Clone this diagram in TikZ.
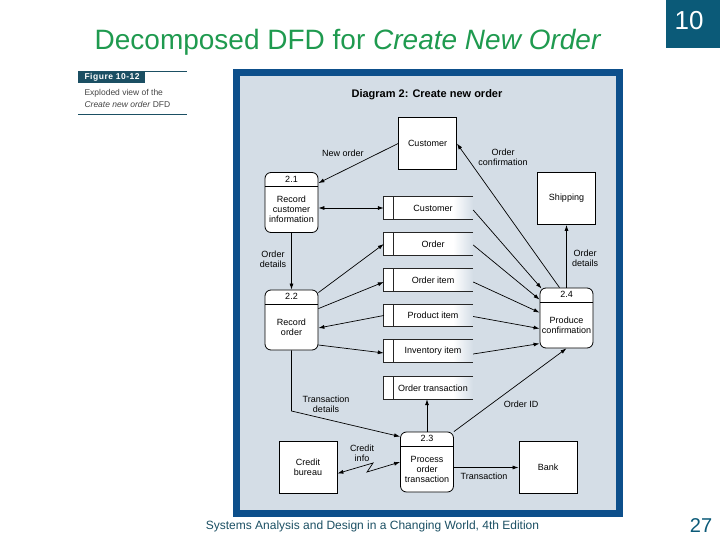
\documentclass[tikz,border=0pt]{standalone}
\usepackage{fontspec}
\setmainfont{Liberation Sans}
\usetikzlibrary{arrows.meta,positioning,calc}
\definecolor{titlegreen}{HTML}{1F9A4F}
\definecolor{slideteal}{HTML}{0B5A78}
\definecolor{footteal}{HTML}{1B4F63}
\definecolor{panelblue}{HTML}{0D4F8B}
\definecolor{panelbg}{HTML}{D4DDE6}
\definecolor{capgray}{HTML}{444444}

\begin{document}
\begin{tikzpicture}[x=1pt, y=-1pt, >={Latex[length=6pt,width=4pt]},
  lbl/.style={font=\fontsize{9}{10}\selectfont, align=center, inner sep=0pt},
  entity/.style={draw, fill=white, line width=0.8pt, minimum width=58pt, minimum height=52pt, font=\fontsize{9}{10}\selectfont, align=center},
  proc/.style={draw, fill=white, line width=0.8pt, rounded corners=6pt, minimum width=53pt, minimum height=60pt,
    path picture={\draw[line width=0.8pt] ([yshift=-14pt]path picture bounding box.north west) -- ([yshift=-14pt]path picture bounding box.north east);}},
  store/.style={minimum width=89pt, minimum height=22pt, inner sep=0pt, font=\fontsize{9}{10}\selectfont,
    path picture={\fill[white] (path picture bounding box.south west) rectangle ([xshift=-20pt]path picture bounding box.north east);
      \shade[left color=white, right color=panelbg] ([xshift=-20pt]path picture bounding box.south east) rectangle (path picture bounding box.north east);}},
  flow/.style={->, line width=0.7pt}]
\useasboundingbox (0,0) rectangle (720,540);
% slide frame
\node[font=\fontsize{28}{30}\selectfont, text=titlegreen] (title) at (348,42) {Decomposed DFD for \textit{Create New Order}};
\fill[slideteal] (666,0) rectangle (720,48);
\node[text=white, font=\fontsize{26}{28}\selectfont] (slideno) at (689,21) {10};
\node[text=slideteal, font=\fontsize{20}{22}\selectfont] (pageno) at (701,526) {27};
\node[text=footteal, font=\fontsize{12}{14}\selectfont] (foot) at (372.5,526) {Systems Analysis and Design in a Changing World, 4th Edition};
% figure caption
\draw[footteal, line width=0.8pt] (78,71) -- (187,71);
\fill[footteal] (78,71) rectangle (145,83);
\node[anchor=west, text=white, font=\fontsize{8.5}{10}\selectfont\bfseries\addfontfeatures{LetterSpace=6}] (figlbl) at (81,77.5) {Figure 10-12};
\node[anchor=west, align=left, text=capgray, font=\fontsize{8.5}{12}\selectfont] (figcap) at (81,98) {Exploded view of the\\\textit{Create new order} DFD};
\draw[footteal, line width=0.8pt] (78,114) -- (187,114);
% panel
\fill[panelblue] (233,69) rectangle (623,517);
\fill[panelbg] (240,76) rectangle (616,510);
\node[font=\fontsize{11}{13}\selectfont\bfseries] (ptitle) at (427,95) {Diagram 2: Create new order};
% external agents
\node[entity] (cust) at (427.5,143.5) {Customer};
\node[entity] (ship) at (566.5,198.5) {Shipping};
\node[entity] (cb) at (308,467.5) {Credit\\bureau};
\node[entity] (bank) at (548,467.5) {Bank};
% processes
\foreach \nm/\xx/\yy/\num/\txt in {p21/291.5/202.5/2.1/Record\\customer\\information, p22/291.5/320/2.2/Record\\order,
    p23/427/462/2.3/Process\\order\\transaction, p24/566.5/318/2.4/Produce\\confirmation} {
  \node[proc] (\nm) at (\xx,\yy) {};
  \node[lbl] (\nm num) at ([yshift=-7pt]\nm.north) {\num};
  \node[lbl] (\nm txt) at ([yshift=-7pt]\nm.center) {\txt};
}
% data stores
\foreach \nm/\yy/\txt in {sCust/208/Customer, sOrd/244/Order, sItem/280/Order item, sProd/315.5/Product item,
    sInv/351/Inventory item, sTrans/388/Order transaction} {
  \node[store] (\nm) at (428.5,\yy) {\hspace*{9pt}\txt};
  \draw[line width=0.8pt, black!85] (\nm.north east) -- (\nm.north west) -- (\nm.south west) -- (\nm.south east);
  \draw[line width=0.8pt, black!85] ([xshift=10pt]\nm.north west) -- ([xshift=10pt]\nm.south west);
}
% flows
\draw[flow] (cust.west) -- ([yshift=-11pt]p21.north east);
\draw[flow] ([xshift=-7pt]p24.north) -- (cust.east);
\draw[flow] (p24.north) -- (ship.south);
\draw[<->, line width=0.7pt] (p21.east |- sCust.west) -- (sCust.west);
\draw[flow] (p21.south) -- (p22.north);
\draw[flow] ([yshift=-3pt]p22.north east) -- (sOrd.west);
\draw[flow] ([yshift=-19pt]p22.north east) -- ([yshift=-2pt]sItem.west);
\draw[flow] (sProd.west) -- ([yshift=-8pt]p22.east);
\draw[flow] ([yshift=-25pt]p22.east) -- ([yshift=-2pt]sInv.west);
\draw[flow] ([yshift=-2pt]sCust.east) -- ([xshift=2pt,yshift=-1pt]p24.north west);
\draw[flow] ([yshift=-1pt]sOrd.east) -- ([yshift=-12pt]p24.north west);
\draw[flow] ([yshift=-2pt]sItem.east) -- ([yshift=-25pt]p24.north west);
\draw[flow] ([yshift=-1pt]sProd.east) -- ([yshift=-41pt]p24.north west);
\draw[flow] ([yshift=-3pt]sInv.east) -- ([yshift=-56pt]p24.north west);
\coordinate (tBend) at (291.5,411);
\draw[flow] (p22.south) -- (tBend) -- ([yshift=-5pt]p23.north west);
\draw[flow] (p23.north) -- (p23.north |- sTrans.south);
\draw[flow] (p23.north east) -- (p24.south);
\draw[flow] (p23.east |- bank.west) -- (bank.west);
\coordinate (zA) at (373,463);
\coordinate (zB) at (367,472);
\draw[<->, line width=0.7pt] ([yshift=-6pt]cb.east) -- (zA) -- (zB) -- (p23.west);
% flow labels
\node[lbl] (lNew) at (343,153) {New order};
\node[lbl] (lConf) at (503,157) {Order\\confirmation};
\node[lbl] (lDet1) at (273,259.5) {Order\\details};
\node[lbl] (lDet2) at (585,258) {Order\\details};
\node[lbl] (lTdet) at (326,404) {Transaction\\details};
\node[lbl] (lOid) at (521,404) {Order ID};
\node[lbl] (lCred) at (362,453) {Credit\\info};
\node[lbl] (lTrans) at (484,476) {Transaction};
\end{tikzpicture}
\end{document}
